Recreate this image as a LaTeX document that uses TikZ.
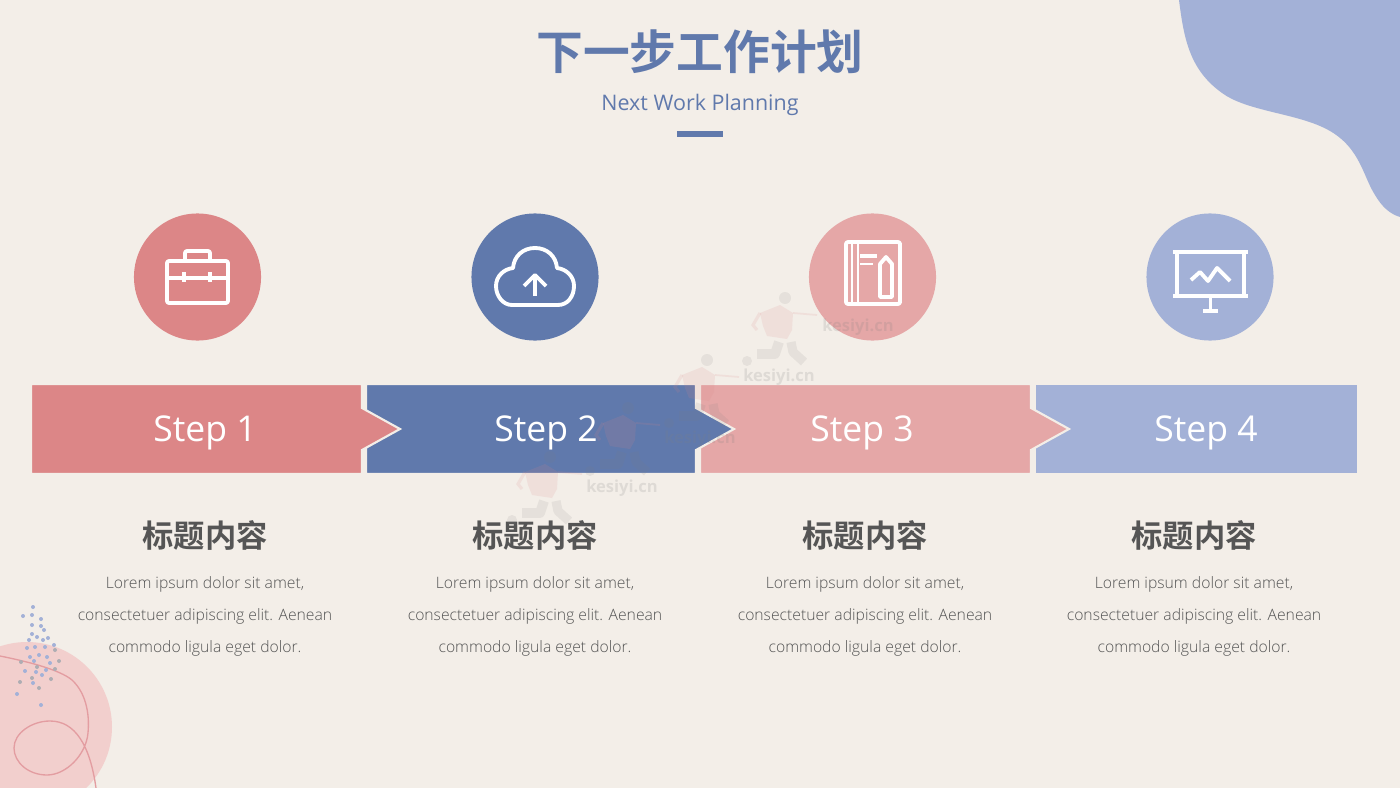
\documentclass[tikz,border=0pt]{standalone}
\usepackage{fontspec}
\setmainfont{Open Sans}
\newfontfamily\lightfont{Open Sans Light}
\newfontfamily\cjkbold[BoldFont={Noto Sans CJK SC Bold}]{Noto Sans CJK SC}
\definecolor{paper}{HTML}{F3EEE8}
\definecolor{rosedark}{HTML}{DC8687}
\definecolor{roselight}{HTML}{E5A7A7}
\definecolor{roseblob}{HTML}{F2CFCD}
\definecolor{roseline}{HTML}{E39DA1}
\definecolor{bluedark}{HTML}{6079AC}
\definecolor{bluelight}{HTML}{A3B1D7}
\definecolor{dotgray}{HTML}{AEADB3}
\definecolor{inkgray}{HTML}{555555}
\tikzset{
  iconline/.style={draw=white,line width=1.1pt,line join=round},
  stepshape/.style={draw=paper,line width=0.6pt},
  steptext/.style={text=white,font=\fontsize{10.1}{12}\selectfont},
  headtext/.style={text=inkgray,font=\cjkbold\bfseries\fontsize{8.9}{10}\selectfont},
  bodytext/.style={text=inkgray,align=center,font=\lightfont\fontsize{4.47}{9}\selectfont},
  marktext/.style={text=gray,opacity=.18,font=\bfseries\fontsize{4.7}{5}\selectfont},
  runner/.pic={
    \fill [gray,opacity=.12] (0,0) circle [radius=6];
    \fill [rosedark,opacity=.14] (-25,15) -- (-5,7) -- (8,15) -- (7,32) -- (2,41) -- (-18,38) -- (-22,28) -- cycle;
    \draw [rosedark,opacity=.14,line width=.9pt] (-25,15) -- (-32,27) -- (-28,32);
    \draw [rosedark,opacity=.14,line width=.5pt] (8,15) -- (32,17);
    \draw [gray,opacity=.12,line width=2.8pt,line join=round] (-6,44) -- (-10,56) -- (-28,56);
    \draw [gray,opacity=.12,line width=2.6pt,line join=round] (6,44) -- (8,54) -- (19,64);
    \fill [gray,opacity=.12] (-38,63) circle [radius=5];
  }
}
\begin{document}
\begin{tikzpicture}[x=0.01cm,y=-0.01cm]
  \useasboundingbox [fill=paper] (0,0) rectangle (1400,788);
  \fill [bluelight] (1179,0) .. controls (1184,40) and (1190,70) .. (1222,93) .. controls (1245,110) and (1290,113) .. (1320,126) .. controls (1360,143) and (1362,175) .. (1375,195) .. controls (1382,207) and (1390,214) .. (1400,217) -- (1400,0) -- cycle;
  \fill [roseblob] (27,727) circle [radius=85];
  \draw [roseline,line width=0.38pt] (0,656) .. controls (30,662) and (60,670) .. (72,680) .. controls (85,692) and (90,712) .. (88,733) .. controls (86,755) and (66,775) .. (47,775) .. controls (28,775) and (14,762) .. (14,748) .. controls (14,733) and (32,721) .. (50,721) .. controls (75,721) and (90,745) .. (96,788);
  \foreach \x/\y in {33/607,23/616,32/615,41/619,32/625,41/626,44/630,32/634,37/637,29/640,43/640,48/638,54/645,27/648,35/647,45/647,39/655,30/657,47/657,34/661,50/663,25/671,46/670,36/672,42/675,33/683,17/694,41/705}
    \fill [bluelight] (\x,\y) circle [radius=2];
  \foreach \x/\y in {55/650,21/662,59/661,37/667,55/669,32/678,51/679,20/682,39/688}
    \fill [dotgray] (\x,\y) circle [radius=2];

  \node [text=bluedark,font=\cjkbold\bfseries\fontsize{13.3}{15}\selectfont] (title) at (700,52) {下一步工作计划};
  \node [text=bluedark,font=\fontsize{6.1}{8}\selectfont] (subtitle) at (700,105) {Next Work Planning};
  \fill [bluedark] (677,131) rectangle (723,137);

  \node [circle,fill=rosedark,minimum size=1.27cm,inner sep=0pt] (circle1) at (197.5,277) {};
  \node [circle,fill=bluedark,minimum size=1.27cm,inner sep=0pt] (circle2) at (535,277) {};
  \node [circle,fill=roselight,minimum size=1.27cm,inner sep=0pt] (circle3) at (872.5,277) {};
  \node [circle,fill=bluelight,minimum size=1.27cm,inner sep=0pt] (circle4) at (1210,277) {};

  \draw [iconline,rounded corners=0.6pt] (167,261) rectangle (228,303);
  \draw [iconline,rounded corners=0.6pt] (185,261) -- (185,251) -- (210,251) -- (210,261);
  \draw [iconline] (167,278) -- (228,278);
  \draw [iconline] (184,272) -- (184,282);
  \draw [iconline] (210,272) -- (210,282);

  \draw [iconline] (512,305) -- (558,305) .. controls (568,305) and (574,296) .. (574,286) .. controls (574,276) and (566,269) .. (557,268) .. controls (556,256) and (547,248) .. (535,248) .. controls (523,248) and (514,256) .. (513,268) .. controls (504,269) and (496,276) .. (496,286) .. controls (496,296) and (503,305) .. (512,305) -- cycle;
  \draw [iconline] (535,296) -- (535,276);
  \draw [iconline] (524,286) -- (535,275) -- (546,286);

  \draw [iconline,rounded corners=0.6pt] (846,242) rectangle (900,304);
  \draw [iconline,line width=0.7pt] (852,243) -- (852,303);
  \draw [iconline,line width=0.7pt] (858,243) -- (858,303);
  \draw [iconline] (860,256) -- (877,256);
  \draw [iconline,line width=0.8pt] (860,264) -- (873,264);
  \draw [iconline] (880,264) -- (886,257) -- (892,264) -- (892,297) -- (880,297) -- cycle;

  \draw [iconline] (1173,252) -- (1248,252);
  \draw [iconline] (1177,252) -- (1177,296);
  \draw [iconline] (1244,252) -- (1244,296);
  \draw [iconline] (1173,296) -- (1248,296);
  \draw [iconline] (1210.5,296) -- (1210.5,311);
  \draw [iconline] (1203,311) -- (1218,311);
  \draw [iconline] (1191,280) -- (1200,272) -- (1208,281) -- (1217,268) -- (1230,281);

  \draw [stepshape,fill=bluelight] (1035,384) -- (1358,384) -- (1358,474) -- (1035,474) -- cycle;
  \draw [stepshape,fill=roselight] (700,384) -- (1031,384) -- (1031,408) -- (1069,429) -- (1031,450) -- (1031,474) -- (700,474) -- cycle;
  \draw [stepshape,fill=bluedark] (366,384) -- (696,384) -- (696,408) -- (734,429) -- (696,450) -- (696,474) -- (366,474) -- cycle;
  \draw [stepshape,fill=rosedark] (31,384) -- (362,384) -- (362,408) -- (400,429) -- (362,450) -- (362,474) -- (31,474) -- cycle;
  \node [steptext] (step1) at (205,433) {Step 1};
  \node [steptext] (step2) at (546,433) {Step 2};
  \node [steptext] (step3) at (862,433) {Step 3};
  \node [steptext] (step4) at (1206,433) {Step 4};

  \node [headtext] (head1) at (205,535.5) {标题内容};
  \node [headtext] (head2) at (535,535.5) {标题内容};
  \node [headtext] (head3) at (865,535.5) {标题内容};
  \node [headtext] (head4) at (1194,535.5) {标题内容};
  \node [bodytext] (body1) at (205,616.5) {Lorem ipsum dolor sit amet,\\consectetuer adipiscing elit. Aenean\\commodo ligula eget dolor.};
  \node [bodytext] (body2) at (535,616.5) {Lorem ipsum dolor sit amet,\\consectetuer adipiscing elit. Aenean\\commodo ligula eget dolor.};
  \node [bodytext] (body3) at (865,616.5) {Lorem ipsum dolor sit amet,\\consectetuer adipiscing elit. Aenean\\commodo ligula eget dolor.};
  \node [bodytext] (body4) at (1194,616.5) {Lorem ipsum dolor sit amet,\\consectetuer adipiscing elit. Aenean\\commodo ligula eget dolor.};

  \pic at (785,298) {runner};
  \pic at (707,360) {runner};
  \pic at (628,408) {runner};
  \pic at (550,457) {runner};
  \node [marktext] (mark1) at (858,327) {kesiyi.cn};
  \node [marktext] (mark2) at (779,377) {kesiyi.cn};
  \node [marktext] (mark3) at (700,439) {kesiyi.cn};
  \node [marktext] (mark4) at (622,488) {kesiyi.cn};
\end{tikzpicture}
\end{document}
